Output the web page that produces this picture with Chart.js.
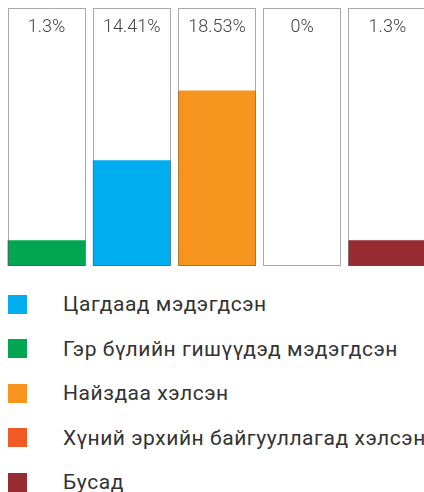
<!DOCTYPE html>
<html>
<head>
<meta charset="utf-8">
<script src="https://cdn.jsdelivr.net/npm/chart.js@4"></script>
<style>
  html, body { margin: 0; padding: 0; background: #fff; overflow: hidden; }
  #chart-container { position: relative; width: 430px; height: 270px; }
  #legend { margin: 12px 0 0 0; padding: 0; list-style: none; font-family: Roboto, sans-serif; width: 440px; }
  #legend li { height: 44.5px; display: flex; align-items: center; font-size: 21px; letter-spacing: 0.55px; color: #333; white-space: nowrap; }
  #legend span.box { flex-shrink: 0; display: inline-block; width: 19px; height: 19px; margin-left: 8px; margin-right: 36px; }
</style>
</head>
<body>
<div id="chart-container"><canvas id="bar-chart"></canvas></div>
<ul id="legend"></ul>
<script>
// Datos de las barras (orden del gráfico)
const categories = ['Гэр бүлийн гишүүдэд мэдэгдсэн', 'Цагдаад мэдэгдсэн', 'Найздаа хэлсэн', 'Хүний эрхийн байгууллагад хэлсэн', 'Бусад'];
const valueLabels = ['1.3%', '14.41%', '18.53%', '0%', '1.3%'];
// altura de cada barra (en % de la caja)
const barHeights = [10, 41, 68, 0, 10];
const barColors = ['#00a651', '#00aeef', '#f7941d', '#f15a24', '#962b32'];
const boxValues = [100, 100, 100, 100, 100];

// Leyenda (orden propio)
const legendLabels = ['Цагдаад мэдэгдсэн', 'Гэр бүлийн гишүүдэд мэдэгдсэн', 'Найздаа хэлсэн', 'Хүний эрхийн байгууллагад хэлсэн', 'Бусад'];
const legendColors = ['#00aeef', '#00a651', '#f7941d', '#f15a24', '#962b32'];

// Cajas punteadas y etiquetas de valor
const boxPlugin = {
    id: 'boxPlugin',
    afterDatasetsDraw(chart) {
        const ctx = chart.ctx;
        const meta = chart.getDatasetMeta(1);
        ctx.save();
        ctx.strokeStyle = '#555';
        ctx.lineWidth = 1;
        ctx.setLineDash([1, 1]);
        meta.data.forEach((bar) => {
            const x = Math.round(bar.x - bar.width / 2) + 0.5;
            const y = Math.round(bar.y) + 0.5;
            const w = Math.round(bar.width) - 1;
            const h = Math.round(bar.base - bar.y) - 1;
            ctx.strokeRect(x, y, w, h);
        });
        ctx.setLineDash([]);
        ctx.fillStyle = '#444';
        ctx.font = '300 18px Roboto';
        ctx.textAlign = 'center';
        ctx.textBaseline = 'middle';
        meta.data.forEach((bar, i) => {
            ctx.fillText(valueLabels[i], bar.x, bar.y + 19);
        });
        ctx.restore();
    }
};

const ctx = document.getElementById('bar-chart').getContext('2d');
new Chart(ctx, {
    type: 'bar',
    data: {
        labels: categories,
        datasets: [{
            data: barHeights,
            backgroundColor: barColors,
            borderWidth: 0,
            grouped: false,
            barPercentage: 0.915,
            categoryPercentage: 1,
            order: 1
        }, {
            data: boxValues,
            backgroundColor: 'rgba(0,0,0,0)',
            borderWidth: 0,
            grouped: false,
            barPercentage: 0.915,
            categoryPercentage: 1,
            order: 2
        }]
    },
    options: {
        responsive: true,
        maintainAspectRatio: false,
        animation: false,
        layout: { padding: { left: 4, right: 0, top: 8, bottom: 4 } },
        plugins: { legend: { display: false }, tooltip: { enabled: false } },
        scales: {
            x: { display: false },
            y: { display: false, min: 0, max: 100 }
        }
    },
    plugins: [boxPlugin]
});

// Leyenda en HTML
const legend = document.getElementById('legend');
legendLabels.forEach((label, i) => {
    const li = document.createElement('li');
    const box = document.createElement('span');
    box.className = 'box';
    box.style.background = legendColors[i];
    li.appendChild(box);
    li.appendChild(document.createTextNode(label));
    legend.appendChild(li);
});
</script>
</body>
</html>
